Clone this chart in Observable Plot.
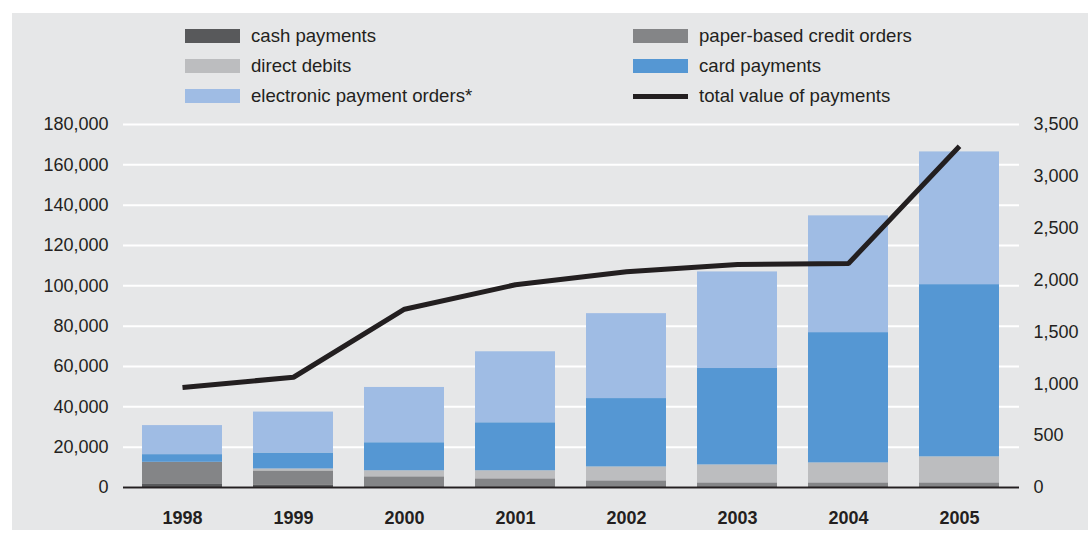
<!DOCTYPE html>
<html>
<head>
<meta charset="utf-8">
<script src="https://cdn.jsdelivr.net/npm/d3@7"></script>
<script src="https://cdn.jsdelivr.net/npm/@observablehq/plot@0.6"></script>
<style>
  html, body { margin: 0; padding: 0; background: #ffffff; }
  #wrap { position: relative; width: 1088px; height: 533px; overflow: hidden;
          font-family: "Liberation Sans", Arial, sans-serif; color: #231f20; }
  #panel { position: absolute; left: 12px; top: 13px; width: 1076px; height: 517px; background: #e6e7e8; }
  #legend { position: relative; height: 110px; }
  .item { position: absolute; display: flex; align-items: center; height: 20px; font-size: 18.6px; white-space: nowrap; }
  .sw { width: 55px; height: 14px; margin-right: 11px; }
  .sw.line { height: 5px; }
  #chart { position: relative; }
</style>
</head>
<body>
<div id="wrap">
  <div id="panel"></div>
  <div id="legend"></div>
  <div id="chart"></div>
</div>
<script>
// ---- data ----
const years = ["1998", "1999", "2000", "2001", "2002", "2003", "2004", "2005"];
const cashPayments = [1500, 1300, 0, 0, 0, 0, 0, 0];
const paperCredit = [11000, 6900, 5300, 4300, 3300, 2300, 2300, 2300];
const directDebits = [0, 1000, 3000, 4000, 6900, 8900, 9900, 12900];
const cardPayments = [3800, 7900, 13900, 23800, 33900, 47800, 64600, 85400];
const electronicOrders = [14400, 20300, 27400, 35200, 42100, 47900, 57900, 65800];
const totalValue = [965, 1063, 1719, 1955, 2080, 2150, 2160, 3290];
const seriesNames = ["cash payments", "paper-based credit orders", "direct debits", "card payments", "electronic payment orders*"];
const seriesColors = ["#58595b", "#848587", "#bcbdbf", "#5597d3", "#9fbce4"];
const lineName = "total value of payments";
const leftTicks = [0, 20000, 40000, 60000, 80000, 100000, 120000, 140000, 160000, 180000];
const rightTicks = [0, 500, 1000, 1500, 2000, 2500, 3000, 3500];
const leftMax = 180000, rightMax = 3500;

// ---- build ----
const seriesValues = [cashPayments, paperCredit, directDebits, cardPayments, electronicOrders];
const rows = [];
seriesNames.forEach((name, si) => {
  years.forEach((y, i) => rows.push({year: y, series: name, value: seriesValues[si][i]}));
});
const ratio = leftMax / rightMax;
const lineRows = years.map((y, i) => ({year: y, value: totalValue[i] * ratio}));
const fmt = d3.format(",");

// legend
const legendItems = [
  {name: seriesNames[0], color: seriesColors[0], left: 185, top: 26},
  {name: seriesNames[1], color: seriesColors[1], left: 633, top: 26},
  {name: seriesNames[2], color: seriesColors[2], left: 185, top: 56},
  {name: seriesNames[3], color: seriesColors[3], left: 633, top: 56},
  {name: seriesNames[4], color: seriesColors[4], left: 185, top: 86},
  {name: lineName, color: "#231f20", left: 633, top: 86, line: true}
];
const legend = document.getElementById("legend");
legendItems.forEach(it => {
  const d = document.createElement("div");
  d.className = "item";
  d.style.left = it.left + "px";
  d.style.top = it.top + "px";
  const s = document.createElement("span");
  s.className = "sw" + (it.line ? " line" : "");
  s.style.background = it.color;
  const t = document.createElement("span");
  t.textContent = it.name;
  d.appendChild(s); d.appendChild(t);
  legend.appendChild(d);
});

const chart = Plot.plot({
  width: 1088,
  height: 423,
  marginLeft: 123,
  marginRight: 69,
  marginTop: 14,
  marginBottom: 46,
  style: {background: "transparent", fontSize: "18px", fontFamily: "'Liberation Sans', Arial, sans-serif", color: "#231f20"},
  x: {domain: years, paddingInner: 0.277, paddingOuter: 0.143, label: null},
  y: {domain: [0, leftMax], label: null},
  color: {domain: seriesNames, range: seriesColors},
  marks: [
    Plot.gridY(leftTicks, {stroke: "#ffffff", strokeOpacity: 1, strokeWidth: 2}),
    Plot.barY(rows, {x: "year", y: "value", fill: "series"}),
    Plot.ruleY([0], {stroke: "#231f20", strokeWidth: 2}),
    Plot.lineY(lineRows, {x: "year", y: "value", stroke: "#231f20", strokeWidth: 5, strokeLinecap: "butt", strokeLinejoin: "miter"}),
    Plot.axisY(leftTicks, {anchor: "left", tickSize: 0, tickPadding: 15, tickFormat: fmt, label: null}),
    Plot.axisY(rightTicks.map(v => v * ratio), {anchor: "right", tickSize: 0, tickPadding: 14,
      tickFormat: d => fmt(Math.round(d / ratio)), label: null}),
    Plot.axisX({tickSize: 0, tickPadding: 24, fontWeight: "bold", label: null})
  ]
});
document.getElementById("chart").appendChild(chart);
</script>
</body>
</html>
